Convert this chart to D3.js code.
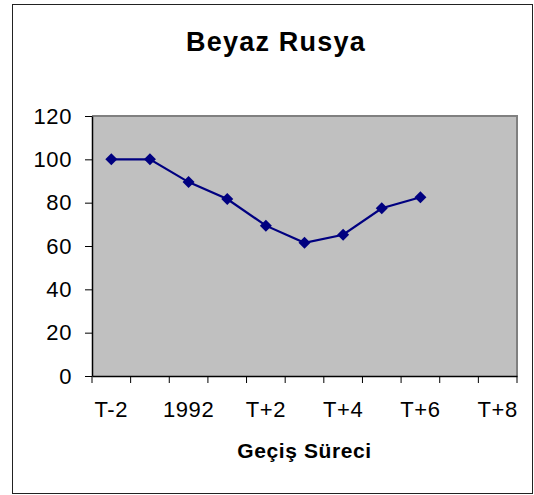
<!DOCTYPE html>
<html lang="tr">
<head>
    <meta charset="UTF-8">
    <title>Beyaz Rusya</title>
    <script src="https://d3js.org/d3.v7.min.js"></script>
    <style>
        body { margin: 0; background: #fff; }
        text { font-family: "Liberation Sans", Arial, sans-serif; fill: #000; }
    </style>
</head>
<body>
    <div id="viz"></div>
    <script>
        // data
        var categories = ["T-2", "T-1", "1992", "T+1", "T+2", "T+3", "T+4", "T+5", "T+6", "T+7", "T+8"];
        var values = [100, 100, 89.5, 81.7, 69.4, 61.5, 65.2, 77.4, 82.5];
        var yTicks = [0, 20, 40, 60, 80, 100, 120];
        var title = "Beyaz Rusya";
        var xTitle = "Geçiş Süreci";

        var w = 534, h = 495;
        var plot = {left: 92, right: 517, top: 116, bottom: 376};

        var svg = d3.select("#viz")
            .append("svg")
            .attr("width", w)
            .attr("height", h);

        // outer chart border
        svg.append("rect")
            .attr("x", 12.5).attr("y", 4.5)
            .attr("width", 520).attr("height", 489)
            .attr("fill", "#fff")
            .attr("stroke", "#222")
            .attr("stroke-width", 1);

        var x = d3.scaleBand()
            .domain(categories)
            .range([plot.left, plot.right])
            .padding(0);

        var y = d3.scaleLinear()
            .domain([0, 120])
            .range([plot.bottom, plot.top]);

        // plot area
        svg.append("rect")
            .attr("x", plot.left).attr("y", plot.top)
            .attr("width", plot.right - plot.left)
            .attr("height", plot.bottom - plot.top)
            .attr("fill", "#c0c0c0");
        svg.append("path")
            .attr("d", "M" + plot.left + "," + plot.top + "H" + plot.right + "V" + plot.bottom)
            .attr("fill", "none")
            .attr("stroke", "#808080")
            .attr("stroke-width", 2);

        // y axis
        var yAxis = svg.append("g")
            .attr("transform", "translate(" + plot.left + ",0)")
            .call(d3.axisLeft(y).tickValues(yTicks).tickSize(7).tickPadding(13).tickSizeOuter(0));
        yAxis.selectAll("text")
            .style("font-size", "22px")
            .style("letter-spacing", "0.6px");

        // x axis - labels on every other category
        var xAxis = svg.append("g")
            .attr("transform", "translate(0," + plot.bottom + ")")
            .call(d3.axisBottom(x).tickSize(0).tickPadding(25).tickSizeOuter(0)
                .tickFormat(function(d, i){ return i % 2 === 0 ? d : ""; }));
        xAxis.selectAll("text")
            .style("font-size", "22px")
            .style("letter-spacing", "0.6px");

        // x tick marks between categories
        var edges = categories.map(function(c){ return x(c); }).concat([plot.right]);
        svg.append("g").selectAll("line")
            .data(edges)
            .enter().append("line")
            .attr("x1", function(d){ return d; })
            .attr("x2", function(d){ return d; })
            .attr("y1", plot.bottom)
            .attr("y2", plot.bottom + 7)
            .attr("stroke", "#000");

        svg.selectAll(".domain").attr("stroke", "#000").attr("stroke-width", 1.5);

        // series line
        var line = d3.line()
            .x(function(d, i){ return x(categories[i]) + x.bandwidth() / 2; })
            .y(function(d){ return y(d); });

        svg.append("path")
            .datum(values)
            .attr("d", line)
            .attr("fill", "none")
            .attr("stroke", "#000080")
            .attr("stroke-width", 2.2);

        svg.append("g").selectAll("path")
            .data(values)
            .enter().append("path")
            .attr("transform", function(d, i){
                return "translate(" + (x(categories[i]) + x.bandwidth() / 2) + "," + y(d) + ")";
            })
            .attr("d", "M0,-6L6,0L0,6L-6,0Z")
            .attr("fill", "#000080");

        // titles
        svg.append("text")
            .attr("x", 276).attr("y", 51)
            .attr("text-anchor", "middle")
            .style("font-size", "27px")
            .style("font-weight", "bold")
            .style("letter-spacing", "1.2px")
            .text(title);

        svg.append("text")
            .attr("x", (plot.left + plot.right) / 2).attr("y", 458)
            .attr("text-anchor", "middle")
            .style("font-size", "21px")
            .style("font-weight", "bold")
            .style("letter-spacing", "0.6px")
            .text(xTitle);
    </script>
</body>
</html>
